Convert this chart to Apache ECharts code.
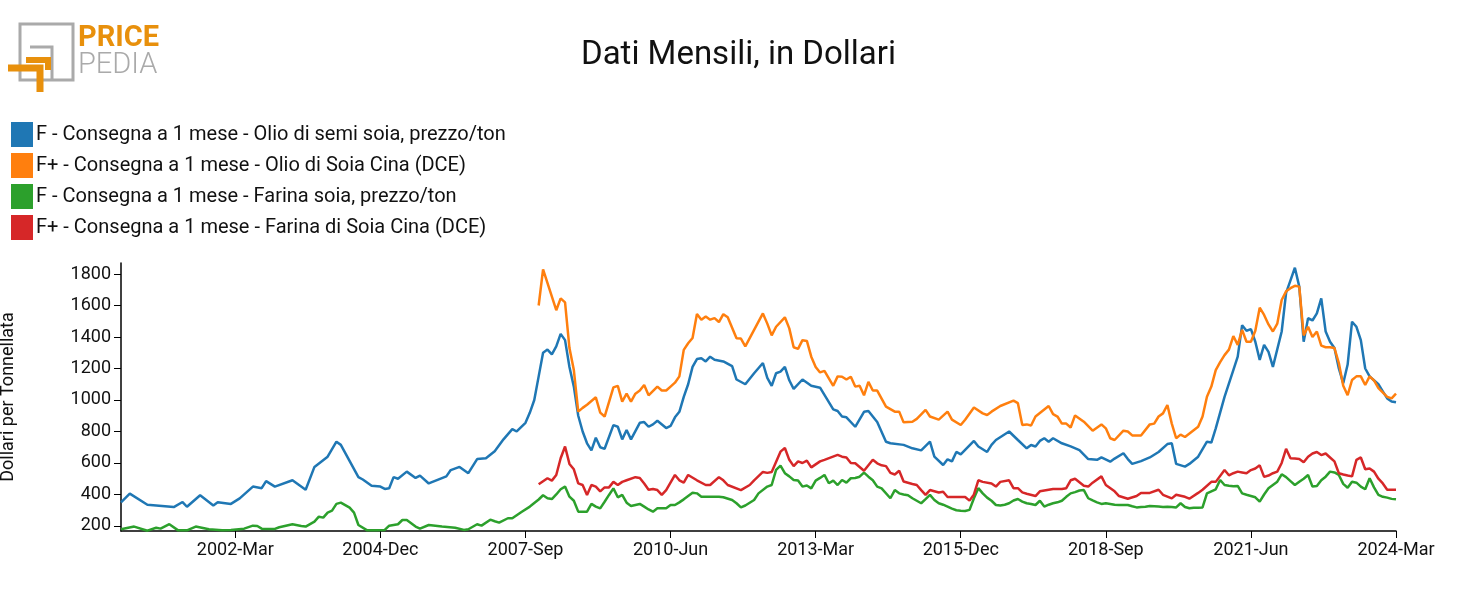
<!DOCTYPE html>
<html>
<head>
<meta charset="utf-8">
<script src="https://cdn.jsdelivr.net/npm/echarts@6/dist/echarts.min.js"></script>
<style>html,body{margin:0;padding:0;background:#fff}#chart{width:1477px;height:615px}</style>
</head>
<body>
<div id="chart"></div>
<script>
const monthNames = ['Jan','Feb','Mar','Apr','May','Jun','Jul','Aug','Sep','Oct','Nov','Dec']
const firstYear = 2000
const lastYear = 2024
const lastMonth = 3

const yTicks = [200,400,600,800,1000,1200,1400,1600,1800]

const seriesNames = [
    'F - Consegna a 1 mese - Olio di semi soia, prezzo/ton',
    'F+ - Consegna a 1 mese - Olio di Soia Cina (DCE)',
    'F - Consegna a 1 mese - Farina soia, prezzo/ton',
    'F+ - Consegna a 1 mese - Farina di Soia Cina (DCE)'
]
const colors = ['#1f77b4','#ff7f0e','#2ca02c','#d62728']

const soyOil = [
['2000-Jan',350],['2000-Mar',405],['2000-Jul',335],['2001-Jan',320],['2001-Mar',352],['2001-Apr',322],['2001-Jul',395],['2001-Oct',330],['2001-Nov',350],
['2002-Feb',340],['2002-Apr',375],['2002-Jul',450],['2002-Sep',440],['2002-Oct',485],['2002-Dec',450],['2003-Apr',490],['2003-Jul',430],['2003-Sep',575],
['2003-Dec',640],['2004-Feb',735],['2004-Mar',715],['2004-Jul',510],['2004-Aug',495],['2004-Oct',455],['2004-Dec',450],['2005-Jan',435],['2005-Feb',440],
['2005-Mar',510],['2005-Apr',500],['2005-Jun',545],['2005-Aug',505],['2005-Sep',520],['2005-Nov',470],['2006-Mar',515],['2006-Apr',555],['2006-Jun',575],
['2006-Aug',535],['2006-Oct',625],['2006-Dec',630],['2007-Feb',675],['2007-Apr',750],['2007-Jun',815],['2007-Jul',800],['2007-Sep',855],['2007-Oct',920],
['2007-Nov',1000],['2007-Dec',1150],['2008-Jan',1300],['2008-Feb',1320],['2008-Mar',1290],['2008-Apr',1340],['2008-May',1420],['2008-Jun',1380],['2008-Jul',1210],
['2008-Aug',1085],['2008-Sep',900],['2008-Oct',800],['2008-Nov',725],['2008-Dec',680],['2009-Jan',760],['2009-Feb',700],['2009-Mar',690],['2009-May',840],
['2009-Jun',830],['2009-Jul',750],['2009-Aug',810],['2009-Sep',750],['2009-Nov',855],['2009-Dec',860],['2010-Jan',830],['2010-Feb',845],['2010-Mar',868],
['2010-May',822],['2010-Jun',835],['2010-Jul',890],['2010-Aug',925],['2010-Sep',1020],['2010-Oct',1100],['2010-Nov',1210],['2010-Dec',1260],['2011-Jan',1265],
['2011-Feb',1245],['2011-Mar',1275],['2011-Apr',1255],['2011-Jun',1245],['2011-Aug',1215],['2011-Sep',1130],['2011-Nov',1100],['2012-Jan',1170],['2012-Mar',1235],
['2012-Apr',1140],['2012-May',1090],['2012-Jun',1170],['2012-Jul',1180],['2012-Aug',1210],['2012-Sep',1125],['2012-Oct',1070],['2012-Dec',1130],['2013-Feb',1090],
['2013-Apr',1078],['2013-Jul',940],['2013-Aug',930],['2013-Sep',895],['2013-Oct',890],['2013-Dec',830],['2014-Feb',925],['2014-Mar',930],['2014-May',860],
['2014-Jul',735],['2014-Aug',725],['2014-Nov',715],['2015-Jan',693],['2015-Mar',680],['2015-May',735],['2015-Jun',640],['2015-Aug',587],['2015-Sep',623],
['2015-Oct',610],['2015-Nov',670],['2015-Dec',655],['2016-Mar',740],['2016-Apr',705],['2016-Jun',670],['2016-Jul',715],['2016-Aug',746],['2016-Nov',800],
['2017-Jan',746],['2017-Mar',693],['2017-Apr',714],['2017-May',705],['2017-Jun',740],['2017-Jul',757],['2017-Aug',735],['2017-Sep',757],['2017-Nov',725],
['2018-Jan',705],['2018-Mar',682],['2018-May',625],['2018-Jul',620],['2018-Aug',635],['2018-Oct',608],['2018-Nov',628],['2019-Jan',662],['2019-Feb',625],
['2019-Mar',594],['2019-May',612],['2019-Jul',635],['2019-Sep',670],['2019-Nov',720],['2019-Dec',725],['2020-Jan',594],['2020-Mar',577],['2020-Apr',594],
['2020-Jun',640],['2020-Aug',735],['2020-Sep',730],['2020-Oct',820],['2020-Dec',1020],['2021-Feb',1190],['2021-Mar',1275],['2021-Apr',1475],['2021-May',1440],
['2021-Jun',1450],['2021-Jul',1370],['2021-Aug',1255],['2021-Sep',1350],['2021-Oct',1305],['2021-Nov',1210],['2022-Jan',1435],['2022-Feb',1680],['2022-Mar',1760],
['2022-Apr',1840],['2022-May',1720],['2022-Jun',1370],['2022-Jul',1520],['2022-Aug',1505],['2022-Sep',1550],['2022-Oct',1645],['2022-Nov',1435],['2022-Dec',1370],
['2023-Jan',1330],['2023-Feb',1200],['2023-Mar',1106],['2023-Apr',1225],['2023-May',1497],['2023-Jun',1465],['2023-Jul',1380],['2023-Aug',1200],['2023-Sep',1150],
['2023-Nov',1100],['2023-Dec',1055],['2024-Jan',1010],['2024-Feb',990],['2024-Mar',985]
]

const soyOilChina = [
['2007-Dec',1600],['2008-Jan',1830],['2008-Apr',1570],['2008-May',1645],['2008-Jun',1620],['2008-Jul',1330],['2008-Aug',1190],['2008-Sep',926],['2008-Oct',950],
['2008-Nov',970],['2009-Jan',1017],['2009-Feb',920],['2009-Mar',895],['2009-May',1080],['2009-Jun',1090],['2009-Jul',990],['2009-Aug',1040],['2009-Sep',990],
['2009-Oct',1040],['2009-Nov',1060],['2009-Dec',1095],['2010-Jan',1030],['2010-Mar',1085],['2010-Apr',1060],['2010-May',1060],['2010-Jun',1085],['2010-Jul',1110],
['2010-Aug',1150],['2010-Sep',1318],['2010-Oct',1360],['2010-Nov',1394],['2010-Dec',1546],['2011-Jan',1510],['2011-Feb',1530],['2011-Mar',1510],['2011-Apr',1520],
['2011-May',1495],['2011-Jun',1545],['2011-Jul',1525],['2011-Sep',1392],['2011-Oct',1390],['2011-Nov',1340],['2012-Jan',1445],['2012-Mar',1550],['2012-Apr',1485],
['2012-May',1410],['2012-Jun',1465],['2012-Aug',1525],['2012-Sep',1455],['2012-Oct',1335],['2012-Nov',1325],['2012-Dec',1380],['2013-Jan',1375],['2013-Feb',1275],
['2013-Mar',1210],['2013-Apr',1175],['2013-May',1185],['2013-Jul',1090],['2013-Aug',1150],['2013-Sep',1148],['2013-Oct',1130],['2013-Nov',1148],['2013-Dec',1085],
['2014-Jan',1090],['2014-Feb',1030],['2014-Mar',1115],['2014-Apr',1060],['2014-May',1060],['2014-Jul',958],['2014-Sep',926],['2014-Oct',926],['2014-Nov',858],
['2015-Jan',862],['2015-Feb',880],['2015-Apr',937],['2015-May',895],['2015-Jul',875],['2015-Sep',926],['2015-Oct',875],['2015-Dec',841],['2016-Jan',875],
['2016-Mar',952],['2016-May',915],['2016-Jun',905],['2016-Jul',926],['2016-Sep',962],['2016-Dec',996],['2017-Jan',980],['2017-Feb',841],['2017-Mar',845],
['2017-Apr',838],['2017-May',895],['2017-Aug',962],['2017-Sep',910],['2017-Oct',895],['2017-Nov',850],['2017-Dec',850],['2018-Jan',825],['2018-Feb',902],
['2018-Apr',862],['2018-Jun',805],['2018-Aug',845],['2018-Sep',820],['2018-Oct',757],['2018-Nov',746],['2019-Jan',805],['2019-Feb',800],['2019-Mar',775],
['2019-May',775],['2019-Jul',845],['2019-Aug',850],['2019-Sep',895],['2019-Oct',915],['2019-Nov',968],['2019-Dec',850],['2020-Jan',757],['2020-Feb',780],
['2020-Mar',765],['2020-Jun',830],['2020-Jul',895],['2020-Aug',1021],['2020-Sep',1085],['2020-Oct',1190],['2020-Nov',1240],['2020-Dec',1285],['2021-Jan',1320],
['2021-Feb',1406],['2021-Mar',1350],['2021-Apr',1445],['2021-May',1370],['2021-Jun',1370],['2021-Jul',1440],['2021-Aug',1586],['2021-Sep',1540],['2021-Oct',1480],
['2021-Nov',1435],['2021-Dec',1485],['2022-Jan',1635],['2022-Feb',1690],['2022-Mar',1710],['2022-Apr',1725],['2022-May',1720],['2022-Jun',1410],['2022-Jul',1465],
['2022-Aug',1400],['2022-Sep',1435],['2022-Oct',1345],['2022-Nov',1335],['2022-Dec',1335],['2023-Jan',1330],['2023-Feb',1235],['2023-Mar',1090],['2023-Apr',1030],
['2023-May',1127],['2023-Jun',1150],['2023-Jul',1150],['2023-Aug',1095],['2023-Sep',1150],['2023-Oct',1124],['2023-Nov',1075],['2024-Jan',1020],['2024-Feb',1010],
['2024-Mar',1040]
]

const soyMeal = [
['2000-Jan',179],['2000-Apr',196],['2000-Jul',170],['2000-Sep',189],['2000-Oct',183],['2000-Dec',211],['2001-Feb',172],['2001-Apr',172],['2001-Jun',196],
['2001-Sep',179],['2001-Dec',172],['2002-Feb',175],['2002-May',183],['2002-Jul',202],['2002-Aug',200],['2002-Sep',183],['2002-Dec',181],['2003-Jan',192],
['2003-Apr',211],['2003-Jun',200],['2003-Jul',196],['2003-Sep',228],['2003-Oct',259],['2003-Nov',253],['2003-Dec',285],['2004-Jan',297],['2004-Feb',340],
['2004-Mar',348],['2004-May',316],['2004-Jun',285],['2004-Jul',206],['2004-Sep',172],['2004-Nov',172],['2005-Jan',175],['2005-Feb',202],['2005-Apr',211],
['2005-May',238],['2005-Jun',238],['2005-Aug',196],['2005-Sep',183],['2005-Nov',206],['2006-Feb',196],['2006-May',189],['2006-Jul',175],['2006-Aug',179],
['2006-Oct',211],['2006-Nov',202],['2007-Jan',240],['2007-Feb',230],['2007-Mar',221],['2007-May',249],['2007-Jun',249],['2007-Aug',287],['2007-Oct',323],
['2007-Dec',368],['2008-Jan',395],['2008-Feb',376],['2008-Mar',371],['2008-Apr',400],['2008-May',433],['2008-Jun',450],['2008-Jul',386],['2008-Aug',360],
['2008-Sep',291],['2008-Oct',290],['2008-Nov',291],['2008-Dec',340],['2009-Jan',323],['2009-Feb',312],['2009-Mar',354],['2009-Apr',397],['2009-May',439],
['2009-Jun',382],['2009-Jul',397],['2009-Aug',348],['2009-Sep',327],['2009-Nov',340],['2009-Dec',323],['2010-Jan',305],['2010-Feb',291],['2010-Mar',312],
['2010-May',312],['2010-Jun',333],['2010-Jul',333],['2010-Aug',350],['2010-Sep',369],['2010-Nov',411],['2010-Dec',407],['2011-Jan',386],['2011-Feb',386],
['2011-Mar',386],['2011-Apr',386],['2011-May',386],['2011-Jun',382],['2011-Aug',365],['2011-Sep',344],['2011-Oct',318],['2011-Nov',330],['2012-Jan',365],
['2012-Feb',407],['2012-Apr',450],['2012-May',460],['2012-Jun',556],['2012-Jul',583],['2012-Aug',535],['2012-Sep',515],['2012-Oct',492],['2012-Nov',488],
['2012-Dec',450],['2013-Jan',457],['2013-Feb',439],['2013-Mar',488],['2013-Apr',505],['2013-May',524],['2013-Jun',471],['2013-Jul',488],['2013-Aug',460],
['2013-Sep',492],['2013-Oct',475],['2013-Nov',503],['2013-Dec',505],['2014-Jan',513],['2014-Feb',539],['2014-Mar',513],['2014-Apr',490],['2014-May',450],
['2014-Jun',439],['2014-Aug',376],['2014-Sep',428],['2014-Oct',407],['2014-Nov',400],['2014-Dec',395],['2015-Jan',376],['2015-Feb',360],['2015-Mar',344],
['2015-Apr',370],['2015-May',397],['2015-Jun',365],['2015-Jul',344],['2015-Aug',335],['2015-Sep',323],['2015-Oct',310],['2015-Nov',300],['2015-Dec',297],
['2016-Jan',295],['2016-Feb',302],['2016-Mar',376],['2016-Apr',440],['2016-May',407],['2016-Jun',380],['2016-Jul',360],['2016-Aug',333],['2016-Sep',330],
['2016-Oct',335],['2016-Nov',344],['2016-Dec',362],['2017-Jan',371],['2017-Feb',355],['2017-Mar',344],['2017-Apr',340],['2017-May',333],['2017-Jun',360],
['2017-Jul',323],['2017-Aug',335],['2017-Sep',344],['2017-Oct',350],['2017-Nov',360],['2017-Dec',385],['2018-Jan',407],['2018-Feb',415],['2018-Mar',425],
['2018-Apr',428],['2018-May',376],['2018-Jun',362],['2018-Jul',350],['2018-Aug',340],['2018-Sep',344],['2018-Oct',340],['2018-Nov',335],['2018-Dec',333],
['2019-Jan',333],['2019-Feb',333],['2019-Mar',325],['2019-Apr',318],['2019-May',320],['2019-Jun',322],['2019-Jul',327],['2019-Aug',325],['2019-Sep',323],
['2019-Oct',320],['2019-Nov',322],['2019-Dec',320],['2020-Jan',318],['2020-Feb',344],['2020-Mar',320],['2020-Apr',312],['2020-May',315],['2020-Jun',316],
['2020-Jul',318],['2020-Aug',407],['2020-Sep',420],['2020-Oct',433],['2020-Nov',492],['2020-Dec',460],['2021-Jan',455],['2021-Feb',452],['2021-Mar',454],
['2021-Apr',407],['2021-May',398],['2021-Jun',390],['2021-Jul',382],['2021-Aug',355],['2021-Sep',400],['2021-Oct',439],['2021-Nov',460],['2021-Dec',481],
['2022-Jan',528],['2022-Feb',510],['2022-Mar',485],['2022-Apr',460],['2022-May',481],['2022-Jun',500],['2022-Jul',524],['2022-Aug',450],['2022-Sep',454],
['2022-Oct',490],['2022-Nov',513],['2022-Dec',545],['2023-Jan',540],['2023-Feb',524],['2023-Mar',467],['2023-Apr',443],['2023-May',481],['2023-Jun',475],
['2023-Jul',450],['2023-Aug',433],['2023-Sep',503],['2023-Oct',445],['2023-Nov',397],['2023-Dec',385],['2024-Jan',380],['2024-Feb',372],['2024-Mar',369]
]

const soyMealChina = [
['2007-Dec',465],['2008-Feb',503],['2008-Mar',488],['2008-Apr',524],['2008-May',630],['2008-Jun',705],['2008-Jul',594],['2008-Aug',560],['2008-Sep',470],
['2008-Oct',460],['2008-Nov',397],['2008-Dec',460],['2009-Jan',450],['2009-Feb',420],['2009-Mar',445],['2009-Apr',445],['2009-May',480],['2009-Jun',460],
['2009-Jul',480],['2009-Aug',490],['2009-Oct',510],['2009-Nov',505],['2009-Dec',470],['2010-Jan',430],['2010-Feb',435],['2010-Mar',428],['2010-Apr',397],
['2010-May',428],['2010-Jul',524],['2010-Aug',490],['2010-Sep',475],['2010-Oct',524],['2010-Dec',490],['2011-Feb',460],['2011-Mar',460],['2011-May',510],
['2011-Jun',490],['2011-Jul',460],['2011-Oct',428],['2011-Dec',460],['2012-Jan',490],['2012-Mar',543],['2012-Apr',537],['2012-May',543],['2012-Jul',672],
['2012-Aug',695],['2012-Sep',620],['2012-Oct',580],['2012-Nov',610],['2012-Dec',600],['2013-Jan',615],['2013-Feb',572],['2013-Apr',610],['2013-May',620],
['2013-Aug',651],['2013-Sep',640],['2013-Oct',635],['2013-Nov',600],['2013-Dec',598],['2014-Feb',551],['2014-Apr',620],['2014-May',598],['2014-Jun',585],
['2014-Jul',580],['2014-Aug',537],['2014-Sep',527],['2014-Oct',551],['2014-Nov',482],['2015-Jan',467],['2015-Feb',460],['2015-Mar',428],['2015-Apr',397],
['2015-May',428],['2015-Jul',413],['2015-Aug',417],['2015-Sep',384],['2015-Nov',384],['2015-Dec',384],['2016-Jan',384],['2016-Feb',361],['2016-Mar',400],
['2016-Apr',490],['2016-May',480],['2016-Jul',470],['2016-Aug',450],['2016-Sep',480],['2016-Nov',490],['2016-Dec',440],['2017-Jan',440],['2017-Feb',413],
['2017-Mar',405],['2017-May',390],['2017-Jun',420],['2017-Jul',425],['2017-Sep',435],['2017-Nov',435],['2017-Dec',440],['2018-Jan',490],['2018-Feb',500],
['2018-Apr',455],['2018-May',450],['2018-Jun',475],['2018-Aug',515],['2018-Sep',460],['2018-Nov',420],['2018-Dec',390],['2019-Feb',373],['2019-Apr',390],
['2019-May',410],['2019-Jul',410],['2019-Sep',430],['2019-Oct',398],['2019-Dec',375],['2020-Jan',398],['2020-Mar',385],['2020-Apr',373],['2020-Jun',410],
['2020-Jul',430],['2020-Sep',480],['2020-Oct',480],['2020-Dec',555],['2021-Jan',522],['2021-Feb',535],['2021-Mar',545],['2021-Apr',540],['2021-May',535],
['2021-Jun',555],['2021-Jul',565],['2021-Aug',585],['2021-Sep',512],['2021-Oct',520],['2021-Nov',535],['2021-Dec',545],['2022-Jan',600],['2022-Feb',690],
['2022-Mar',630],['2022-Apr',628],['2022-May',625],['2022-Jun',605],['2022-Jul',640],['2022-Aug',660],['2022-Sep',670],['2022-Oct',650],['2022-Nov',660],
['2022-Dec',635],['2023-Jan',610],['2023-Feb',535],['2023-Mar',527],['2023-Apr',520],['2023-May',515],['2023-Jun',620],['2023-Jul',635],['2023-Aug',560],
['2023-Sep',565],['2023-Oct',545],['2023-Nov',500],['2023-Dec',470],['2024-Jan',430],['2024-Feb',430],['2024-Mar',430]
]

// monthly categories 2000-Jan .. 2024-Mar
const months = []
for (let y = firstYear; y <= lastYear; y++) {
    for (let m = 0; m < 12; m++) {
        if (y === lastYear && m >= lastMonth) break
        months.push(y + '-' + monthNames[m])
    }
}
// a label every 33 months, starting at 2002-Mar
const showLabel = (i) => i >= 26 && (i - 26) % 33 === 0

const chart = echarts.init(document.getElementById('chart'))
const font = 'Roboto'

chart.setOption({
    animation: false,
    color: colors,
    textStyle: { fontFamily: font },
    title: {
        text: 'Dati Mensili, in Dollari',
        left: 'center',
        top: 34,
        textStyle: { fontSize: 33, fontWeight: 'normal', color: '#111', fontFamily: font }
    },
    legend: {
        orient: 'vertical',
        left: 6,
        top: 117,
        itemWidth: 22,
        itemHeight: 25,
        itemGap: 6,
        icon: 'rect',
        textStyle: { fontSize: 20, color: '#111', padding: [0, 0, 0, -2] },
        data: seriesNames
    },
    graphic: [
        { type: 'rect', shape: { x: 20, y: 24, width: 53, height: 56 }, style: { fill: 'none', stroke: '#aaa', lineWidth: 3 } },
        { type: 'polyline', shape: { points: [[30, 47], [52, 47], [52, 80]] }, style: { fill: 'none', stroke: '#aaa', lineWidth: 3 } },
        { type: 'polyline', shape: { points: [[8, 68], [40, 68], [40, 92]] }, style: { fill: 'none', stroke: '#e8900c', lineWidth: 7 } },
        { type: 'polyline', shape: { points: [[26, 60], [48, 60], [48, 70]] }, style: { fill: 'none', stroke: '#e8900c', lineWidth: 6 } },
        { type: 'text', left: 78, top: 24, style: { text: 'PRICE', fill: '#e8900c', font: 'bold 29px Roboto' } },
        { type: 'text', left: 78, top: 51, style: { text: 'PEDIA', fill: '#aaa', font: '300 29px Roboto' } }
    ],
    grid: { left: 121, right: 81, top: 263, bottom: 84, outerBoundsMode: 'none' },
    xAxis: {
        type: 'category',
        data: months,
        boundaryGap: false,
        axisLine: { lineStyle: { color: '#000', width: 1.5 } },
        axisTick: { interval: showLabel, length: 7, lineStyle: { color: '#000' } },
        axisLabel: { interval: showLabel, fontSize: 18, color: '#111', margin: 10 }
    },
    yAxis: {
        type: 'value',
        min: 168,
        max: 1870,
        name: 'Dollari per Tonnellata',
        nameLocation: 'middle',
        nameGap: 104,
        nameTextStyle: { fontSize: 18, color: '#111' },
        splitLine: { show: false },
        axisLine: { show: true, lineStyle: { color: '#000', width: 1.5 } },
        axisTick: { show: true, length: 7, customValues: yTicks, lineStyle: { color: '#000' } },
        axisLabel: { fontSize: 18, color: '#111', customValues: yTicks, margin: 10, formatter: (v) => String(v) }
    },
    series: [soyOil, soyOilChina, soyMeal, soyMealChina].map((d, i) => ({
        name: seriesNames[i],
        type: 'line',
        data: d,
        symbol: 'none',
        lineStyle: { width: 2.5 }
    }))
})
</script>
</body>
</html>
